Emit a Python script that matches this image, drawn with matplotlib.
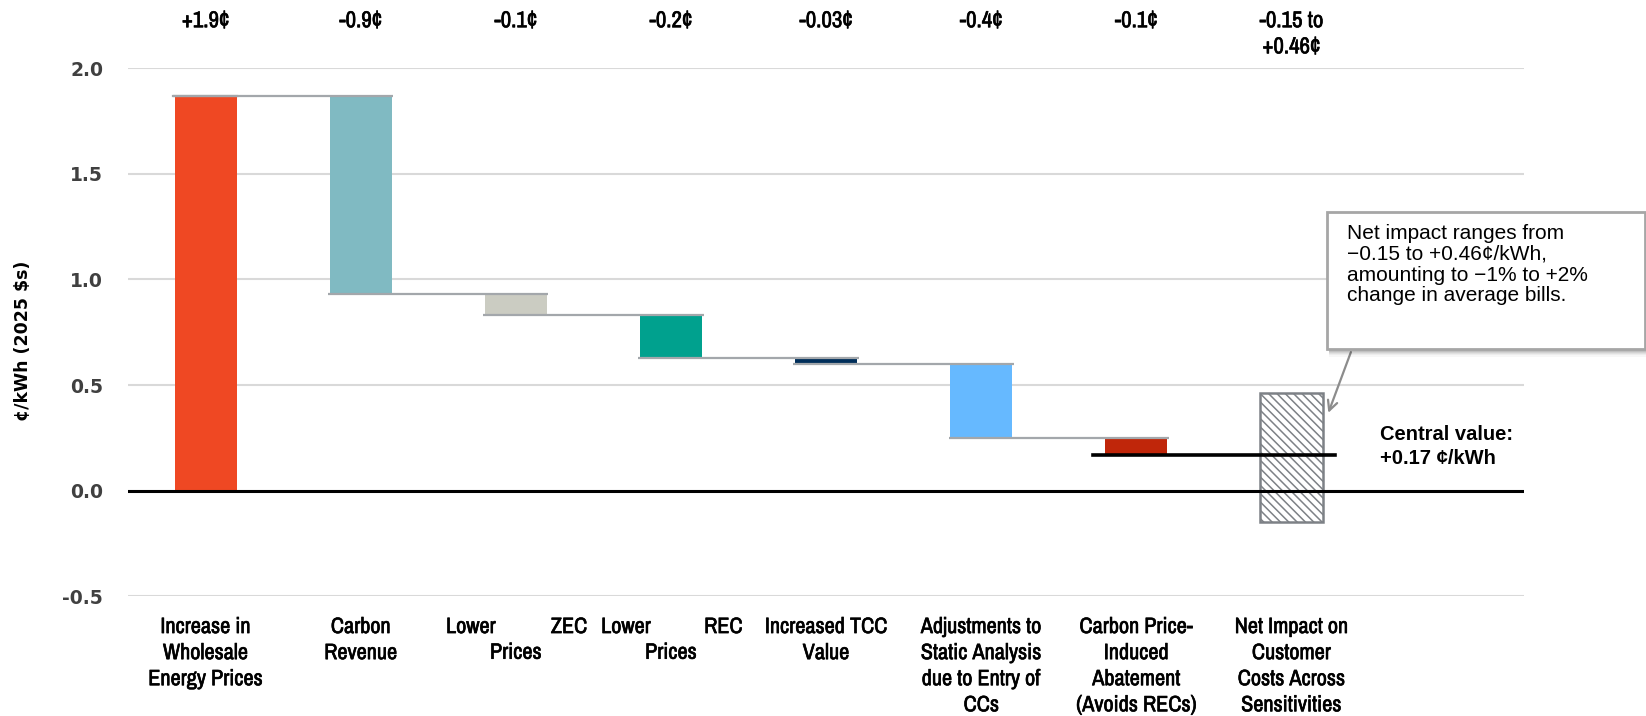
import matplotlib
matplotlib.use("Agg")
import matplotlib.pyplot as plt
from matplotlib import font_manager
from matplotlib import patheffects
from matplotlib.patches import Rectangle

# ---- data -------------------------------------------------------------
categories = [
    "Increase in\nWholesale\nEnergy Prices",
    "Carbon\nRevenue",
    ("Lower", "ZEC", "Prices"),
    ("Lower", "REC", "Prices"),
    "Increased TCC\nValue",
    "Adjustments to\nStatic Analysis\ndue to Entry of\nCCs",
    "Carbon Price-\nInduced\nAbatement\n(Avoids RECs)",
    "Net Impact on\nCustomer\nCosts Across\nSensitivities",
]
steps = [1.87, -0.94, -0.10, -0.20, -0.03, -0.35, -0.08]
step_labels = ["+1.9¢", "-0.9¢", "-0.1¢", "-0.2¢", "-0.03¢", "-0.4¢", "-0.1¢"]
step_colors = ["#EF4823", "#80BAC2", "#CBCCC2", "#00A18E", "#002E5A", "#66B9FF", "#C0260A"]
range_low, range_high = -0.15, 0.46
range_label = "-0.15 to\n+0.46¢"
central_value = 0.17
yticks = [-0.5, 0.0, 0.5, 1.0, 1.5, 2.0]

# ---- fonts ------------------------------------------------------------
installed = {f.name for f in font_manager.fontManager.ttflist}


def first_font(cands):
    for c in cands:
        if c in installed:
            return c
    return "DejaVu Sans"


narrow = first_font(["Archivo Narrow", "Roboto Condensed", "PT Sans Narrow",
                     "Liberation Sans Narrow", "Liberation Sans"])
sans = first_font(["Liberation Sans", "Arimo"])
plt.rcParams["hatch.linewidth"] = 1.1
heavier = [patheffects.withStroke(linewidth=0.45, foreground="black")]

fig = plt.figure(figsize=(16.46, 7.16), dpi=100)
ax = fig.add_axes([0.0778, 0.1673, 0.8481, 0.7374])
ax.set_xlim(-0.5, 8.5)
ax.set_ylim(-0.5, 2.0)

# grid
for t in yticks:
    ax.axhline(t, color="#d9d9d9", lw=1.5, zorder=0)
ax.axhline(0, color="black", lw=2.2, zorder=3)

width = 0.4
conn_color = "#a3a7ab"

# waterfall bars
level = 0.0
levels = []
for i, (s, c) in enumerate(zip(steps, step_colors)):
    ax.bar(i, s, bottom=level, width=width, color=c, zorder=2, linewidth=0)
    level += s
    levels.append(level)

# connectors spanning from a bar's left edge to the next bar's right edge
for i, lv in enumerate(levels[:-1]):
    ax.plot([i - width / 2 - 0.01, i + 1 + width / 2 + 0.01], [lv, lv],
            color=conn_color, lw=1.6, zorder=4, solid_capstyle="butt")
ax.plot([0 - width / 2 - 0.01, 0 + width / 2], [levels[0], levels[0]],
        color=conn_color, lw=1.6, zorder=4)

# range bar
n = len(steps)
ax.bar(n, range_high - range_low, bottom=range_low, width=0.41,
       facecolor="white", edgecolor="#7d8186", hatch="\\\\\\\\", linewidth=1.8, zorder=2)

# central value line
ax.plot([5.72, 7.28], [central_value, central_value], color="black", lw=2.6, zorder=5)

# y axis
ax.set_yticks(yticks)
ax.set_yticklabels([f"{t:.1f}" for t in yticks], fontsize=13.5, fontweight="bold",
                   color="#404040", family="DejaVu Sans")
ax.tick_params(axis="y", length=0, pad=18)
ax.set_xticks([])
for sp in ax.spines.values():
    sp.set_visible(False)

fig.text(0.014, 0.524, "¢/kWh (2025 $s)", rotation=90, ha="center", va="center",
         fontsize=12.5, fontweight="bold", family="DejaVu Sans", color="black")

# category labels
lab_size = 16
lab_gap = 18.5  # points between consecutive label lines
lab_kw = dict(fontsize=lab_size, family=narrow, fontweight="semibold", color="black",
              va="top", textcoords="offset points", annotation_clip=False,
              linespacing=1.38, path_effects=heavier)
for i, lab in enumerate(categories):
    if isinstance(lab, tuple):
        left, right, second = lab
        ax.annotate(left, xy=(i - 0.45, -0.5), xytext=(0, -15), ha="left", **lab_kw)
        ax.annotate(right, xy=(i + 0.46, -0.5), xytext=(0, -15), ha="right", **lab_kw)
        ax.annotate(second, xy=(i, -0.5), xytext=(0, -15 - lab_gap), ha="center", **lab_kw)
    else:
        ax.annotate(lab, xy=(i, -0.5), xytext=(0, -15), ha="center", **lab_kw)

# step value labels above the plot
top_kw = dict(fontsize=16.5, family=narrow, fontweight="semibold", color="black", va="top",
              ha="center", clip_on=False, linespacing=1.38, path_effects=heavier)
for i, lab in enumerate(step_labels):
    ax.text(i, 2.27, lab, **top_kw)
ax.text(n, 2.27, range_label, **top_kw)

# central value note
ax.text(7.57, 0.21, "Central value:\n+0.17 ¢/kWh", fontsize=14.5, fontweight="bold",
        family=sans, ha="left", va="center", linespacing=1.3)

# callout box with soft shadow
bx0, by0, bx1, by1 = 1327 / 1646, 1 - 349 / 716, 1645 / 1646, 1 - 212 / 716
for k, a in zip(range(6, 0, -1), [0.03, 0.04, 0.05, 0.06, 0.08, 0.10]):
    fig.patches.append(Rectangle((bx0 + 0.0015, by0 - k * 0.0018), bx1 - bx0,
                                 by1 - by0, transform=fig.transFigure,
                                 facecolor="black", alpha=a, edgecolor="none", zorder=8))
fig.patches.append(Rectangle((bx0, by0), bx1 - bx0, by1 - by0, transform=fig.transFigure,
                             facecolor="white", edgecolor="#a6a6a6", lw=2, zorder=9))
fig.text(1347 / 1646, 1 - 224 / 716,
         "Net impact ranges from\n\u22120.15 to +0.46¢/kWh,\namounting to \u22121% to +2%\nchange in average bills.",
         fontsize=15, family=sans, ha="left", va="top", linespacing=1.12, zorder=10)

# arrow from the callout to the range bar
ax.annotate("", xy=(7.232, 0.356), xytext=(7.39, 0.668),
            arrowprops=dict(arrowstyle="->,head_length=0.7,head_width=0.35",
                            color="#8c8c8c", lw=1.6), annotation_clip=False, zorder=11)

fig.savefig("out.png", dpi=100)
